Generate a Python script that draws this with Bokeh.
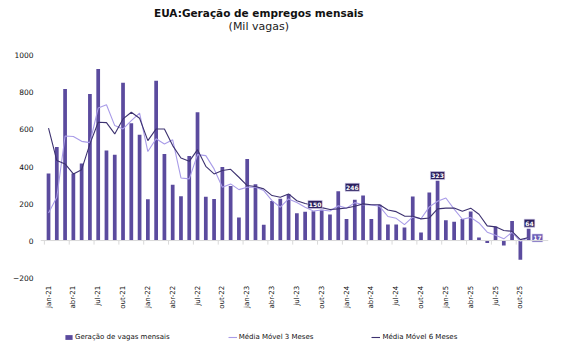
import math
from bokeh.plotting import figure
from bokeh.models import ColumnDataSource, FixedTicker, Span, Legend, LegendItem
from bokeh.embed import file_html
from bokeh.resources import INLINE
from bokeh.core.properties import value

FONT = "DejaVu Sans"

titulo = "EUA:Geração de empregos mensais"
subtitulo = "(Mil vagas)"

meses_abrev = ["jan", "fev", "mar", "abr", "mai", "jun", "jul", "ago", "set", "out", "nov", "dez"]
anos = ["21", "22", "23", "24", "25"]
months = [f"{m}-{a}" for a in anos for m in meses_abrev][:59]

# Geração de vagas mensais (mil)
vagas = [362, 506, 819, 362, 416, 792, 927, 486, 464, 853, 634, 572,
         223, 864, 468, 302, 239, 457, 693, 236, 225, 398, 295, 124,
         441, 304, 85, 214, 226, 252, 148, 155, 158, 166, 140, 266,
         117, 220, 243, 117, 194, 86, 86, 70, 238, 43, 259, 323,
         110, 101, 117, 157, 16, -14, 76, -27, 106, -104, 64]

# Média móvel 3 meses
mm3 = [149, 234, 565, 562, 536, 529, 716, 734, 621, 603, 648, 688,
       481, 550, 522, 544, 338, 333, 464, 459, 387, 288, 306, 275,
       288, 288, 270, 216, 180, 225, 205, 180, 160, 165, 160, 188,
       175, 205, 193, 192, 185, 130, 120, 86, 128, 118, 182, 212,
       230, 170, 115, 125, 95, 45, 28, 9, 45, -5, 17]

# Média móvel 6 meses
mm6 = [608, 432, 414, 360, 383, 522, 639, 637, 576, 657, 693, 661,
       540, 603, 603, 513, 446, 428, 491, 401, 360, 378, 385, 342,
       297, 292, 279, 243, 234, 252, 215, 200, 189, 178, 168, 171,
       176, 185, 198, 193, 193, 165, 156, 132, 131, 117, 122, 171,
       175, 176, 158, 175, 142, 79, 74, 54, 50, 5, 16]

# Rótulos de destaque
rot_txt = ["150", "246", "323", "64", "17"]
rot_x = [32.2, 36.7, 47.0, 58.1, 59.06]
rot_y = [195, 288, 351, 94, 14]

y_ticks = [-200, 0, 200, 400, 600, 800, 1000]

C_BAR = "#5b4b9e"
C_MM3 = "#a99ce8"
C_MM6 = "#3d3270"
C_BOX = "#2b1f5e"
C_BOX2 = "#6a5ab4"

x = list(range(len(months)))
src = ColumnDataSource(dict(x=x, vagas=vagas, mm3=mm3, mm6=mm6))

# the frame covers the whole canvas height; title, month labels and legend live inside it
p = figure(width=564, height=352, x_range=(-0.97, 60.4), y_range=(-605, 1297),
           output_backend="svg", toolbar_location=None, x_axis_location=None,
           min_border_left=40, min_border_right=16, min_border_top=0, min_border_bottom=0)
p.outline_line_color = None
p.xgrid.visible = False
p.ygrid.visible = False
p.background_fill_color = "white"
p.border_fill_color = "white"

# titles
p.text(x=[25.4], y=[1232], text=[titulo], text_align="center", text_baseline="middle",
       text_font=value(FONT), text_font_size="10.5px", text_font_style="bold", text_color="#111111")
p.text(x=[25.4], y=[1157], text=[subtitulo], text_align="center", text_baseline="middle",
       text_font=value(FONT), text_font_size="11px", text_color="#222222")

# y axis
p.yaxis.ticker = FixedTicker(ticks=y_ticks)
p.yaxis.axis_line_color = None
p.yaxis.major_tick_line_color = None
p.yaxis.minor_tick_line_color = None
p.yaxis.major_tick_out = 0
p.yaxis.major_tick_in = 0
p.yaxis.major_label_standoff = 7
p.yaxis.major_label_text_font = FONT
p.yaxis.major_label_text_font_size = "7.5px"
p.yaxis.major_label_text_color = "#111111"

# zero line with category boundary ticks
lab_idx = x[::3]
p.add_layout(Span(location=0, dimension="width", line_color="#d9d9d9", line_width=1))
bounds = [i - 0.5 for i in lab_idx]
p.segment(x0=bounds, y0=[0] * len(bounds), x1=bounds, y1=[-22] * len(bounds),
          line_color="#d9d9d9", line_width=1)

# month labels under the -200 level (Excel "low" label position)
p.text(x=lab_idx, y=[-245] * len(lab_idx), text=[months[i] for i in lab_idx],
       angle=math.pi / 2, text_align="right", text_baseline="middle",
       text_font=value(FONT), text_font_size="7px", text_color="#111111")

bars = p.vbar(x="x", top="vagas", width=0.45, source=src, fill_color=C_BAR, line_color=None)
l3 = p.line(x="x", y="mm3", source=src, line_color=C_MM3, line_width=1.1)
l6 = p.line(x="x", y="mm6", source=src, line_color=C_MM6, line_width=1.1)

# highlight boxes
box_w = [3.6 * len(t) + 3.5 for t in rot_txt]
box_c = [C_BOX] * (len(rot_txt) - 1) + [C_BOX2]
rsrc = ColumnDataSource(dict(x=rot_x, y=rot_y, t=rot_txt, w=box_w, c=box_c))
p.rect(x="x", y="y", width="w", height=8, width_units="screen", height_units="screen",
       source=rsrc, fill_color="c", line_color="#d8d2f2", line_width=0.6)
p.text(x="x", y="y", text="t", source=rsrc, text_align="center", text_baseline="middle",
       text_color="white", text_font=value(FONT), text_font_size="6px", text_font_style="bold")

legend = Legend(items=[LegendItem(label="Geração de vagas mensais", renderers=[bars]),
                       LegendItem(label="Média Móvel 3 Meses", renderers=[l3]),
                       LegendItem(label="Média Móvel 6 Meses", renderers=[l6])],
                orientation="horizontal", location=(24, 11), spacing=58,
                glyph_width=9, glyph_height=6, label_standoff=2, label_height=8,
                label_text_font=FONT, label_text_font_size="7px", label_text_color="#111111",
                border_line_color=None, background_fill_alpha=0, padding=3, margin=0)
p.add_layout(legend, "center")

open("out.html", "w").write(file_html(p, INLINE))
